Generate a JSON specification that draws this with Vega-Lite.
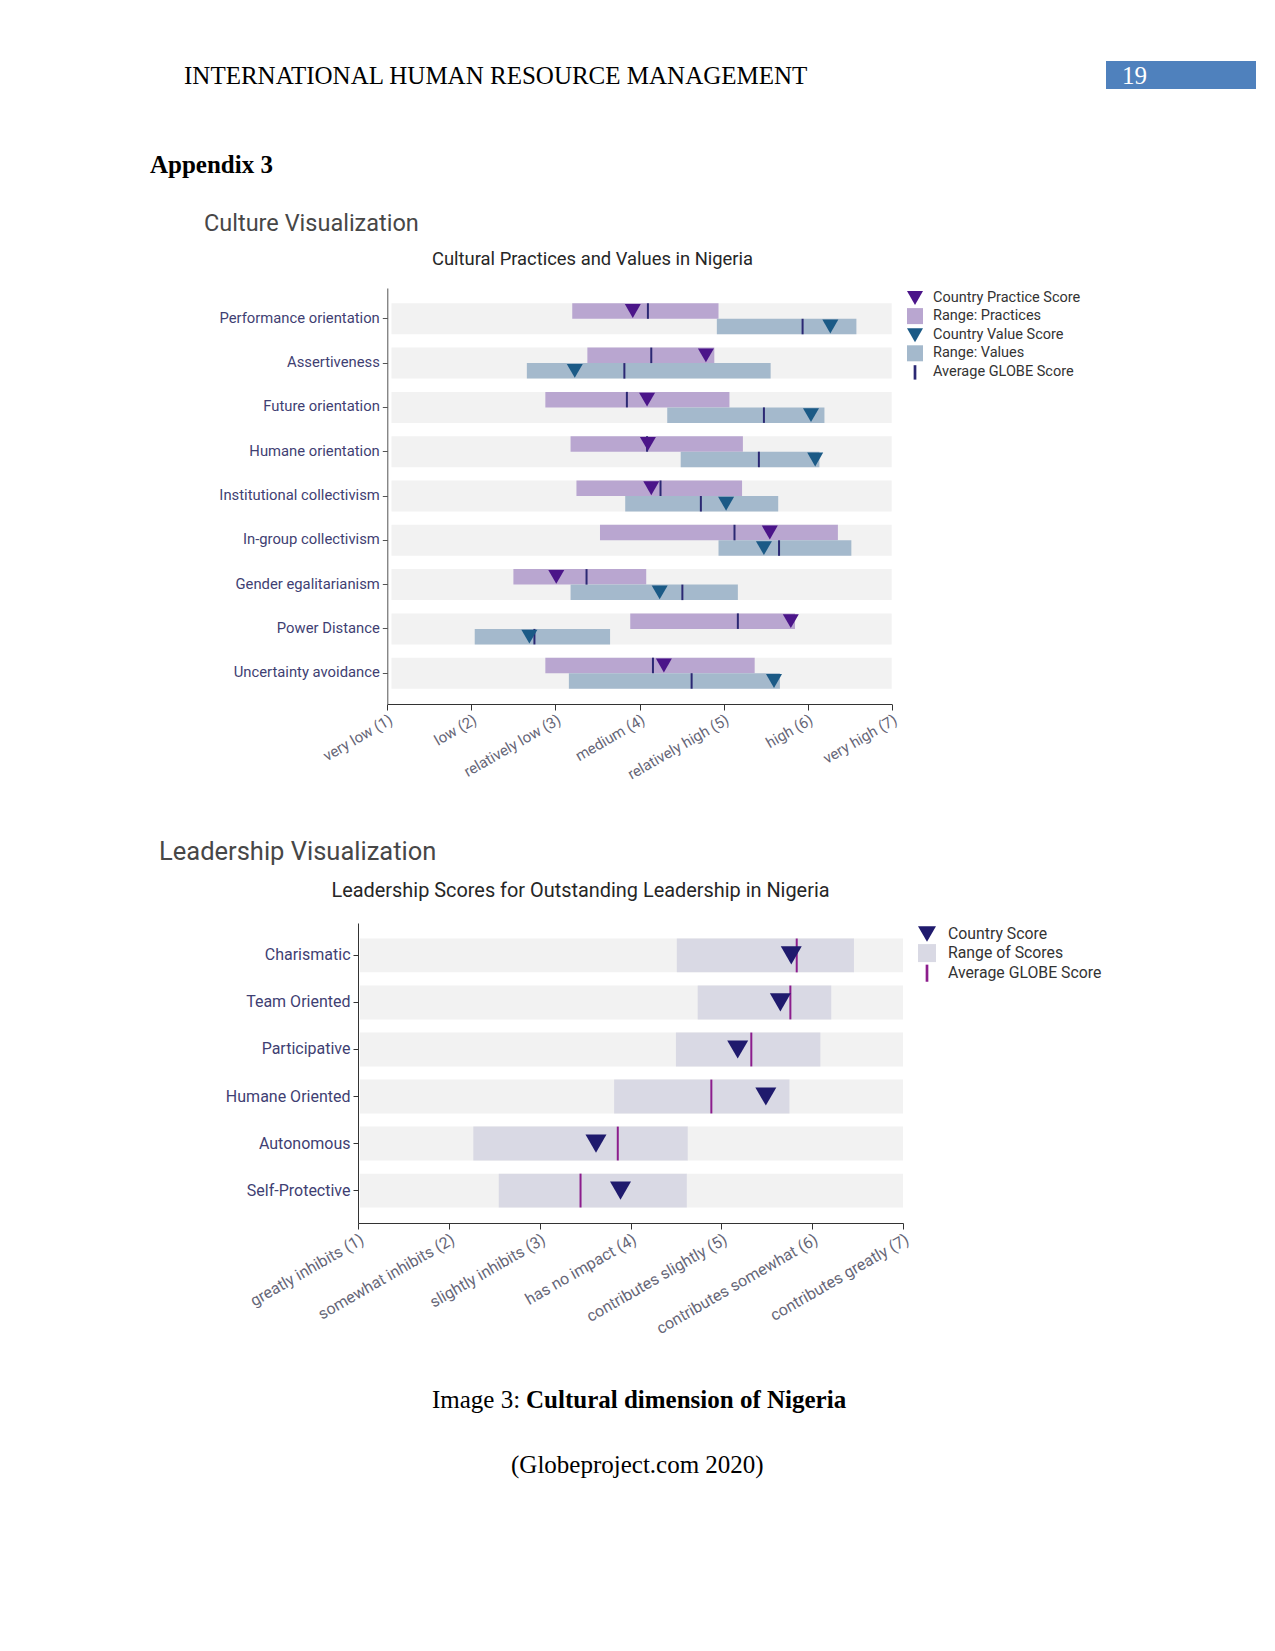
{
  "$schema": "https://vega.github.io/schema/vega-lite/v6.json",
  "padding": 0,
  "background": "white",
  "columns": 3,
  "spacing": 0,
  "bounds": "flush",
  "align": "each",
  "resolve": {"scale": {"color": "independent", "shape": "independent"}, "legend": {"color": "independent", "shape": "independent"}},
  "config": {
    "view": {"stroke": null},
    "font": "Roboto",
    "title": {"anchor": "start", "frame": "group", "offset": 0, "baseline": "alphabetic", "fontWeight": "normal"},
    "legend": {"padding": 2, "titlePadding": 0, "labelFont": "Roboto", "symbolStrokeWidth": 0, "symbolOpacity": 1, "labelColor": "#333333", "orient": "right"}
  },
  "concat": [
    {"width": 358, "height": 61, "data": {"values": []}, "mark": "point"},
    {"width": 748, "height": 61, "data": {"values": []}, "mark": "point"},
    {"width": 150, "height": 61, "data": {"values": []}, "mark": "point"},

    {"width": 358, "height": 28, "data": {"values": []}, "mark": "point",
     "title": {"text": "INTERNATIONAL HUMAN RESOURCE MANAGEMENT", "dx": 184, "dy": 31.5, "font": "Liberation Serif", "fontSize": 25, "color": "#000000"}},
    {"width": 748, "height": 28, "data": {"values": []}, "mark": "point"},
    {"width": 150, "height": 28, "data": {"values": []}, "mark": "point", "view": {"fill": "#4f81bd", "stroke": null},
     "title": {"text": "19", "dx": 16, "dy": 31.5, "font": "Liberation Serif", "fontSize": 25, "color": "#ffffff"}},

    {"width": 358, "height": 91, "data": {"values": []}, "mark": "point",
     "title": {"text": "Appendix 3", "dx": 150, "dy": 93, "font": "Liberation Serif", "fontSize": 25, "fontWeight": "bold", "color": "#000000"}},
    {"width": 748, "height": 91, "data": {"values": []}, "mark": "point"},
    {"width": 150, "height": 91, "data": {"values": []}, "mark": "point"},

    {"width": 358, "height": 108, "data": {"values": []}, "mark": "point",
     "title": {"text": "Culture Visualization", "dx": 204, "dy": 59.5, "font": "Roboto", "fontSize": 23.5, "color": "#474747"}},
    {"width": 748, "height": 108, "data": {"values": []}, "mark": "point"},
    {"width": 150, "height": 108, "data": {"values": []}, "mark": "point"},

    {"width": 358, "height": 416, "data": {"values": []}, "mark": "point"},
    {
      "width": 534,
      "height": 416,
      "title": {"text": "Cultural Practices and Values in Nigeria", "dx": 74, "offset": 20, "font": "Roboto", "fontSize": 18.4, "color": "#262626"},
      "data": {"values": [
        {"dim": "Performance orientation", "type": "Practices", "lo": 3.20, "hi": 4.94, "score": 3.92, "avg": 4.10, "scoreLabel": "Country Practice Score", "rangeLabel": "Range: Practices"},
        {"dim": "Performance orientation", "type": "Values", "lo": 4.92, "hi": 6.58, "score": 6.27, "avg": 5.94, "scoreLabel": "Country Value Score", "rangeLabel": "Range: Values"},
        {"dim": "Assertiveness", "type": "Practices", "lo": 3.38, "hi": 4.89, "score": 4.79, "avg": 4.14, "scoreLabel": "Country Practice Score", "rangeLabel": "Range: Practices"},
        {"dim": "Assertiveness", "type": "Values", "lo": 2.66, "hi": 5.56, "score": 3.23, "avg": 3.82, "scoreLabel": "Country Value Score", "rangeLabel": "Range: Values"},
        {"dim": "Future orientation", "type": "Practices", "lo": 2.88, "hi": 5.07, "score": 4.09, "avg": 3.85, "scoreLabel": "Country Practice Score", "rangeLabel": "Range: Practices"},
        {"dim": "Future orientation", "type": "Values", "lo": 4.33, "hi": 6.20, "score": 6.04, "avg": 5.48, "scoreLabel": "Country Value Score", "rangeLabel": "Range: Values"},
        {"dim": "Humane orientation", "type": "Practices", "lo": 3.18, "hi": 5.23, "score": 4.10, "avg": 4.09, "scoreLabel": "Country Practice Score", "rangeLabel": "Range: Practices"},
        {"dim": "Humane orientation", "type": "Values", "lo": 4.49, "hi": 6.14, "score": 6.09, "avg": 5.42, "scoreLabel": "Country Value Score", "rangeLabel": "Range: Values"},
        {"dim": "Institutional collectivism", "type": "Practices", "lo": 3.25, "hi": 5.22, "score": 4.14, "avg": 4.25, "scoreLabel": "Country Practice Score", "rangeLabel": "Range: Practices"},
        {"dim": "Institutional collectivism", "type": "Values", "lo": 3.83, "hi": 5.65, "score": 5.03, "avg": 4.73, "scoreLabel": "Country Value Score", "rangeLabel": "Range: Values"},
        {"dim": "In-group collectivism", "type": "Practices", "lo": 3.53, "hi": 6.36, "score": 5.55, "avg": 5.13, "scoreLabel": "Country Practice Score", "rangeLabel": "Range: Practices"},
        {"dim": "In-group collectivism", "type": "Values", "lo": 4.94, "hi": 6.52, "score": 5.48, "avg": 5.66, "scoreLabel": "Country Value Score", "rangeLabel": "Range: Values"},
        {"dim": "Gender egalitarianism", "type": "Practices", "lo": 2.50, "hi": 4.08, "score": 3.01, "avg": 3.37, "scoreLabel": "Country Practice Score", "rangeLabel": "Range: Practices"},
        {"dim": "Gender egalitarianism", "type": "Values", "lo": 3.18, "hi": 5.17, "score": 4.24, "avg": 4.51, "scoreLabel": "Country Value Score", "rangeLabel": "Range: Values"},
        {"dim": "Power Distance", "type": "Practices", "lo": 3.89, "hi": 5.85, "score": 5.80, "avg": 5.17, "scoreLabel": "Country Practice Score", "rangeLabel": "Range: Practices"},
        {"dim": "Power Distance", "type": "Values", "lo": 2.04, "hi": 3.65, "score": 2.69, "avg": 2.75, "scoreLabel": "Country Value Score", "rangeLabel": "Range: Values"},
        {"dim": "Uncertainty avoidance", "type": "Practices", "lo": 2.88, "hi": 5.37, "score": 4.29, "avg": 4.16, "scoreLabel": "Country Practice Score", "rangeLabel": "Range: Practices"},
        {"dim": "Uncertainty avoidance", "type": "Values", "lo": 3.16, "hi": 5.67, "score": 5.60, "avg": 4.62, "scoreLabel": "Country Value Score", "rangeLabel": "Range: Values"}
      ]},
      "encoding": {
        "y": {
          "field": "dim", "type": "nominal", "title": null,
          "scale": {"domain": ["Performance orientation", "Assertiveness", "Future orientation", "Humane orientation", "Institutional collectivism", "In-group collectivism", "Gender egalitarianism", "Power Distance", "Uncertainty avoidance"], "paddingInner": 0.3, "paddingOuter": 0.345},
          "axis": {"offset": -29.3, "labelFont": "Roboto", "labelFontSize": 14.8, "labelColor": "#3f3f73", "tickSize": 5, "labelPadding": 3, "domainColor": "#555555", "tickColor": "#555555", "grid": false}
        }
      },
      "layer": [
        {
          "transform": [{"filter": "datum.type === 'Practices'"}],
          "mark": {"type": "bar", "color": "#f2f2f2"},
          "encoding": {
            "x": {"datum": 1.05, "type": "quantitative", "title": null,
                  "scale": {"domain": [1, 7], "range": [29.3, 533.7], "nice": false, "zero": false},
                  "axis": {"values": [1, 2, 3, 4, 5, 6, 7], "labelOverlap": false, "labelLimit": 0, "labelExpr": "['', 'very low (1)', 'low (2)', 'relatively low (3)', 'medium (4)', 'relatively high (5)', 'high (6)', 'very high (7)'][datum.value]", "labelAngle": -30, "labelFont": "Roboto", "labelFontSize": 15, "labelColor": "#666677", "tickSize": 6, "labelPadding": 2, "domainColor": "#333333", "tickColor": "#333333", "grid": false}},
            "x2": {"datum": 7}
          }
        },
        {
          "mark": {"type": "bar"},
          "encoding": {
            "x": {"field": "lo", "type": "quantitative", "title": null},
            "x2": {"field": "hi"},
            "yOffset": {"field": "type", "type": "nominal"},
            "color": {"field": "rangeLabel", "type": "nominal", "title": null,
                      "scale": {"domain": ["Country Practice Score", "Range: Practices", "Country Value Score", "Range: Values", "Average GLOBE Score"], "range": ["#4b1589", "#b9a6d0", "#1b5a86", "#a4b9cc", "#2b2873"]},
                      "legend": {"title": null, "offset": 13, "labelOffset": 10, "symbolSize": 256, "rowPadding": 3.1, "labelFontSize": 14.5}}
          }
        },
        {
          "mark": {"type": "bar", "xOffset": -1, "x2Offset": 1},
          "encoding": {
            "x": {"field": "avg", "type": "quantitative", "title": null},
            "x2": {"field": "avg"},
            "yOffset": {"field": "type", "type": "nominal"},
            "color": {"datum": "Average GLOBE Score", "type": "nominal", "title": null,
                      "legend": {"title": null, "offset": 13, "labelOffset": 10, "symbolSize": 256, "rowPadding": 3.1, "labelFontSize": 14.5}}
          }
        },
        {
          "mark": {"type": "point", "filled": true, "opacity": 1, "size": 256},
          "encoding": {
            "x": {"field": "score", "type": "quantitative", "title": null},
            "yOffset": {"field": "type", "type": "nominal"},
            "color": {"field": "scoreLabel", "type": "nominal", "title": null,
                      "legend": {"title": null, "offset": 13, "labelOffset": 10, "symbolSize": 256, "rowPadding": 3.1, "labelFontSize": 14.5}},
            "shape": {"field": "scoreLabel", "type": "nominal", "title": null,
                      "scale": {"domain": ["Country Practice Score", "Range: Practices", "Country Value Score", "Range: Values", "Average GLOBE Score"], "range": ["triangle-down", "square", "triangle-down", "square", "M-0.17,-0.9L0.17,-0.9L0.17,0.9L-0.17,0.9Z"]},
                      "legend": {"title": null, "offset": 13, "labelOffset": 10, "symbolSize": 256, "rowPadding": 3.1, "labelFontSize": 14.5}}
          }
        }
      ]
    },
    {"width": 150, "height": 416, "data": {"values": []}, "mark": "point"},

    {"width": 358, "height": 219, "data": {"values": []}, "mark": "point",
     "title": {"text": "Leadership Visualization", "dx": 159, "dy": 165.5, "font": "Roboto", "fontSize": 25.5, "color": "#474747"}},
    {"width": 748, "height": 219, "data": {"values": []}, "mark": "point"},
    {"width": 150, "height": 219, "data": {"values": []}, "mark": "point"},

    {"width": 358, "height": 300, "data": {"values": []}, "mark": "point"},
    {
      "width": 545,
      "height": 300,
      "title": {"text": "Leadership Scores for Outstanding Leadership in Nigeria", "dx": -26.5, "offset": 22, "font": "Roboto", "fontSize": 19.9, "color": "#262626"},
      "data": {"values": [
        {"dim": "Charismatic", "lo": 4.51, "hi": 6.46, "score": 5.77, "avg": 5.83},
        {"dim": "Team Oriented", "lo": 4.74, "hi": 6.21, "score": 5.65, "avg": 5.76},
        {"dim": "Participative", "lo": 4.50, "hi": 6.09, "score": 5.18, "avg": 5.33},
        {"dim": "Humane Oriented", "lo": 3.82, "hi": 5.75, "score": 5.49, "avg": 4.89},
        {"dim": "Autonomous", "lo": 2.27, "hi": 4.63, "score": 3.62, "avg": 3.86},
        {"dim": "Self-Protective", "lo": 2.55, "hi": 4.62, "score": 3.89, "avg": 3.45}
      ]},
      "encoding": {
        "y": {
          "field": "dim", "type": "nominal", "title": null,
          "scale": {"domain": ["Charismatic", "Team Oriented", "Participative", "Humane Oriented", "Autonomous", "Self-Protective"], "paddingInner": 0.28, "paddingOuter": 0.33},
          "axis": {"labelFont": "Roboto", "labelFontSize": 16, "labelColor": "#3f3f73", "tickSize": 5, "labelPadding": 3, "domainColor": "#333333", "tickColor": "#333333", "grid": false}
        }
      },
      "layer": [
        {
          "mark": {"type": "bar", "color": "#f2f2f2"},
          "encoding": {
            "x": {"datum": 1.02, "type": "quantitative", "title": null,
                  "scale": {"domain": [1, 7], "nice": false, "zero": false},
                  "axis": {"values": [1, 2, 3, 4, 5, 6, 7], "labelOverlap": false, "labelLimit": 0, "labelExpr": "['', 'greatly inhibits (1)', 'somewhat inhibits (2)', 'slightly inhibits (3)', 'has no impact (4)', 'contributes slightly (5)', 'contributes somewhat (6)', 'contributes greatly (7)'][datum.value]", "labelAngle": -30, "labelFont": "Roboto", "labelFontSize": 16, "labelColor": "#666677", "tickSize": 6, "labelPadding": 2, "domainColor": "#333333", "tickColor": "#333333", "grid": false}},
            "x2": {"datum": 7}
          }
        },
        {
          "mark": {"type": "bar"},
          "encoding": {
            "x": {"field": "lo", "type": "quantitative", "title": null},
            "x2": {"field": "hi"},
            "color": {"datum": "Range of Scores", "type": "nominal", "title": null,
                      "scale": {"domain": ["Country Score", "Range of Scores", "Average GLOBE Score"], "range": ["#1f1a6d", "#d9d9e4", "#8c1d8c"]},
                      "legend": {"title": null, "offset": 13, "labelOffset": 12, "symbolSize": 324, "rowPadding": 2.1, "labelFontSize": 15.8}}
          }
        },
        {
          "mark": {"type": "bar", "xOffset": -1, "x2Offset": 1},
          "encoding": {
            "x": {"field": "avg", "type": "quantitative", "title": null},
            "x2": {"field": "avg"},
            "color": {"datum": "Average GLOBE Score", "type": "nominal", "title": null,
                      "legend": {"title": null, "offset": 13, "labelOffset": 12, "symbolSize": 324, "rowPadding": 2.1, "labelFontSize": 15.8}}
          }
        },
        {
          "mark": {"type": "point", "filled": true, "opacity": 1, "size": 441},
          "encoding": {
            "x": {"field": "score", "type": "quantitative", "title": null},
            "color": {"datum": "Country Score", "type": "nominal", "title": null,
                      "legend": {"title": null, "offset": 13, "labelOffset": 12, "symbolSize": 324, "rowPadding": 2.1, "labelFontSize": 15.8}},
            "shape": {"datum": "Country Score", "type": "nominal", "title": null,
                      "scale": {"domain": ["Country Score", "Range of Scores", "Average GLOBE Score"], "range": ["triangle-down", "square", "M-0.15,-0.95L0.15,-0.95L0.15,0.95L-0.15,0.95Z"]},
                      "legend": {"title": null, "offset": 13, "labelOffset": 12, "symbolSize": 324, "rowPadding": 2.1, "labelFontSize": 15.8}}
          }
        }
      ]
    },
    {"width": 150, "height": 300, "data": {"values": []}, "mark": "point"},

    {"width": 358, "height": 200, "data": {"values": []}, "mark": "point",
     "title": {"text": "Image 3:", "dx": 432, "dy": 193.5, "font": "Liberation Serif", "fontSize": 25, "color": "#000000"}},
    {"width": 748, "height": 200, "data": {"values": []}, "mark": "point",
     "title": {"text": "Cultural dimension of Nigeria", "dx": 168, "dy": 193.5, "font": "Liberation Serif", "fontSize": 25, "fontWeight": "bold", "color": "#000000"}},
    {"width": 150, "height": 200, "data": {"values": []}, "mark": "point"},

    {"width": 358, "height": 100, "data": {"values": []}, "mark": "point",
     "title": {"text": "(Globeproject.com 2020)", "dx": 511, "dy": 58.5, "font": "Liberation Serif", "fontSize": 25, "color": "#000000"}},
    {"width": 748, "height": 100, "data": {"values": []}, "mark": "point"},
    {"width": 150, "height": 100, "data": {"values": []}, "mark": "point"}
  ]
}
